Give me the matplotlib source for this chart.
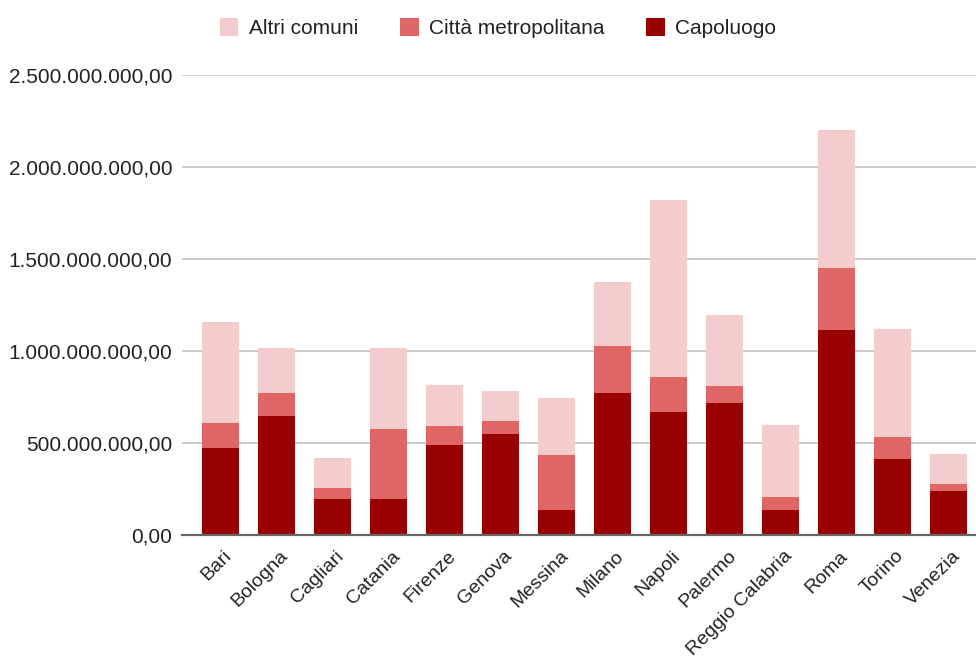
import matplotlib
matplotlib.use("Agg")
import matplotlib.pyplot as plt
import matplotlib.transforms as mtransforms
from matplotlib.patches import Patch
from matplotlib.ticker import FuncFormatter
import numpy as np

plt.rcParams['font.family'] = ['Liberation Sans', 'DejaVu Sans']

cities = ["Bari", "Bologna", "Cagliari", "Catania", "Firenze", "Genova", "Messina",
          "Milano", "Napoli", "Palermo", "Reggio Calabria", "Roma", "Torino", "Venezia"]

# Values in euro (millions, converted below)
capoluogo_mln = [472, 649, 197, 197, 490, 550, 137, 771, 670, 715, 136, 1113, 411, 241]
citta_metro_mln = [139, 122, 56, 379, 103, 72, 297, 257, 188, 97, 72, 338, 119, 36]
altri_comuni_mln = [549, 248, 168, 443, 223, 162, 308, 347, 963, 386, 389, 748, 587, 161]

yticks = [0, 500e6, 1000e6, 1500e6, 2000e6, 2500e6]

col_capoluogo = "#990000"
col_citta = "#e06666"
col_altri = "#f4cccc"

capoluogo = np.array(capoluogo_mln) * 1e6
citta = np.array(citta_metro_mln) * 1e6
altri = np.array(altri_comuni_mln) * 1e6

W, H = 976, 662
fig = plt.figure(figsize=(W / 100, H / 100), dpi=100)
ax = fig.add_axes([182 / W, 1 - 535 / H, (976 - 182) / W, (535 - 75) / H])

x = np.arange(len(cities))
bw = 0.66
ax.bar(x, capoluogo, bw, color=col_capoluogo, zorder=3)
ax.bar(x, citta, bw, bottom=capoluogo, color=col_citta, zorder=3)
ax.bar(x, altri, bw, bottom=capoluogo + citta, color=col_altri, zorder=3)

ax.set_xlim(-0.684, 13.49)
ax.set_ylim(0, 2.5e9)
ax.set_yticks(yticks)


def it_fmt(v, pos=None):
    s = f"{v:,.2f}"
    return s.replace(",", "X").replace(".", ",").replace("X", ".")


ax.yaxis.set_major_formatter(FuncFormatter(it_fmt))
ax.grid(axis="y", color="#cccccc", linewidth=1.4, zorder=0)
ax.set_axisbelow(True)

for side in ["top", "right", "left"]:
    ax.spines[side].set_visible(False)
ax.spines["bottom"].set_color("#666666")
ax.spines["bottom"].set_linewidth(1.6)
ax.spines["bottom"].set_zorder(4)

ax.tick_params(axis="y", length=0, pad=7, labelsize=15, labelcolor="#222222")
ax.tick_params(axis="x", length=0, pad=9, labelsize=14, labelcolor="#222222")

ax.set_xticks(x)
ax.set_xticklabels(cities, rotation=45, ha="right", va="top", rotation_mode="anchor")
offset = mtransforms.ScaledTranslation(3 / 100, 0, fig.dpi_scale_trans)
for lbl in ax.get_xticklabels():
    lbl.set_transform(lbl.get_transform() + offset)

handles = [Patch(facecolor=col_altri, edgecolor="none", label="Altri comuni"),
           Patch(facecolor=col_citta, edgecolor="none", label="Città metropolitana"),
           Patch(facecolor=col_capoluogo, edgecolor="none", label="Capoluogo")]
fig.legend(handles=handles, loc="center", bbox_to_anchor=(498 / W, 1 - 28 / H),
           ncol=3, frameon=False, fontsize=15, handlelength=0.9, handleheight=0.95,
           handletextpad=0.5, columnspacing=2.0, labelcolor="#222222")

fig.savefig("out.png", dpi=100)
